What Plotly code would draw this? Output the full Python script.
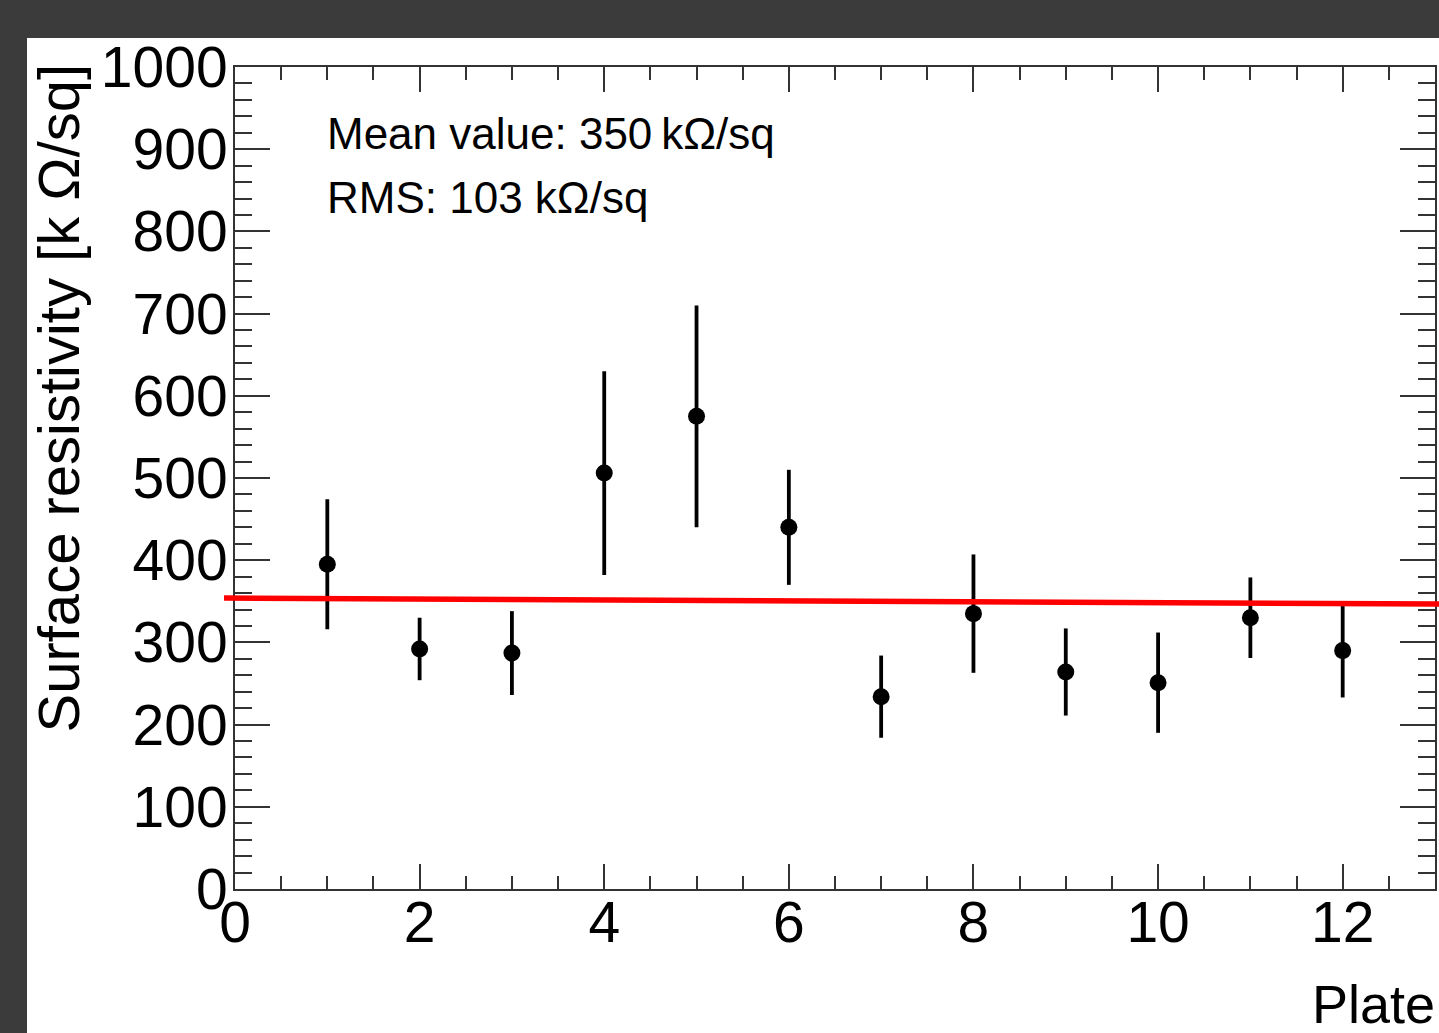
import plotly.graph_objects as go

# ---- data ----
plates = [1, 2, 3, 4, 5, 6, 7, 8, 9, 10, 11, 12]
resistivity = [395, 292, 287, 506, 575, 440, 234, 335, 264, 251, 330, 290]
res_err = [79, 38, 51, 124, 135, 70, 50, 72, 53, 61, 49, 57]
fit_p0 = 353.9
fit_p1 = -0.555
mean_text = "Mean value: 350\u2009k\u03a9/sq"
rms_text = "RMS: 103 k\u03a9/sq"
x_ticks = [0, 2, 4, 6, 8, 10, 12]
y_ticks = [0, 100, 200, 300, 400, 500, 600, 700, 800, 900, 1000]

# ---- geometry (pixels) ----
W, H = 1439, 1033
ML, MR, MT, MB = 224, 0, 67, 144
PW = W - ML - MR
PH = H - MT - MB
ax_left, ax_right = 235, 1435


def px(xp):
    return (xp - ML) / PW


def py(yp):
    return (H - MB - yp) / PH


x_range = [0, 13]
scale = (ax_right - ax_left) / (x_range[1] - x_range[0])
x2_range = [x_range[0] - (ax_left - ML) / scale, x_range[1] + (W - MR - ax_right) / scale]
y_range = [0, 1000]

FONT = "Liberation Sans, Arial, Helvetica, sans-serif"
AXC = "#333333"

fig = go.Figure()

fig.add_trace(go.Scatter(
    x=plates, y=resistivity,
    mode="markers",
    marker=dict(color="black", size=17),
    error_y=dict(type="data", array=res_err, visible=True, color="black",
                 thickness=3.8, width=0),
    xaxis="x", yaxis="y", showlegend=False,
))

fit_x = x2_range
fit_y = [fit_p0 + fit_p1 * v for v in fit_x]
fig.add_trace(go.Scatter(
    x=fit_x, y=fit_y, mode="lines",
    line=dict(color="#ff0000", width=5.5),
    xaxis="x2", yaxis="y2", showlegend=False,
))

common = dict(showgrid=False, zeroline=False, showline=True, linecolor=AXC,
              linewidth=2, mirror="allticks", ticks="inside", tickcolor=AXC,
              tickwidth=2, tickfont=dict(family=FONT, size=57, color="black"))

fig.update_layout(
    width=W, height=H,
    margin=dict(l=ML, r=MR, t=MT, b=MB, pad=0),
    paper_bgcolor="#3b3b3b",
    plot_bgcolor="rgba(0,0,0,0)",
    xaxis=dict(range=x_range, domain=[px(ax_left), px(ax_right)],
               tickvals=x_ticks, ticklen=25, ticklabelstandoff=-17,
               minor=dict(dtick=0.5, tick0=0, ticklen=13, tickwidth=2,
                          tickcolor=AXC, ticks="inside"),
               **common),
    yaxis=dict(range=y_range, domain=[0, 1], tickvals=y_ticks, ticklen=35,
               ticklabelstandoff=-6,
               minor=dict(dtick=20, tick0=0, ticklen=17, tickwidth=2,
                          tickcolor=AXC, ticks="inside"),
               **common),
    xaxis2=dict(range=x2_range, domain=[0, 1], visible=False, anchor="y2"),
    yaxis2=dict(range=y_range, domain=[0, 1], visible=False, anchor="x2"),
    shapes=[dict(type="rect", xref="paper", yref="paper",
                 x0=px(27), x1=px(W + 5), y0=py(H + 5), y1=py(38),
                 fillcolor="white", line=dict(width=0), layer="below")],
    annotations=[
        dict(text=mean_text, xref="paper", yref="paper", x=px(325), y=py(134),
             xanchor="left", yanchor="middle", showarrow=False,
             font=dict(family=FONT, size=44, color="black")),
        dict(text=rms_text, xref="paper", yref="paper", x=px(325), y=py(198),
             xanchor="left", yanchor="middle", showarrow=False,
             font=dict(family=FONT, size=44, color="black")),
        dict(text="Surface resistivity [k \u03a9/sq]", xref="paper", yref="paper",
             x=px(58), y=py(62), xanchor="center", yanchor="top", textangle=-90,
             showarrow=False, font=dict(family=FONT, size=58, color="black")),
        dict(text="Plate", xref="paper", yref="paper", x=px(1437), y=py(1004),
             xanchor="right", yanchor="middle", showarrow=False,
             font=dict(family=FONT, size=54, color="black")),
    ],
)

fig.write_html("out.html", config={"displayModeBar": False},
               post_script="document.body.style.margin='0px';")
